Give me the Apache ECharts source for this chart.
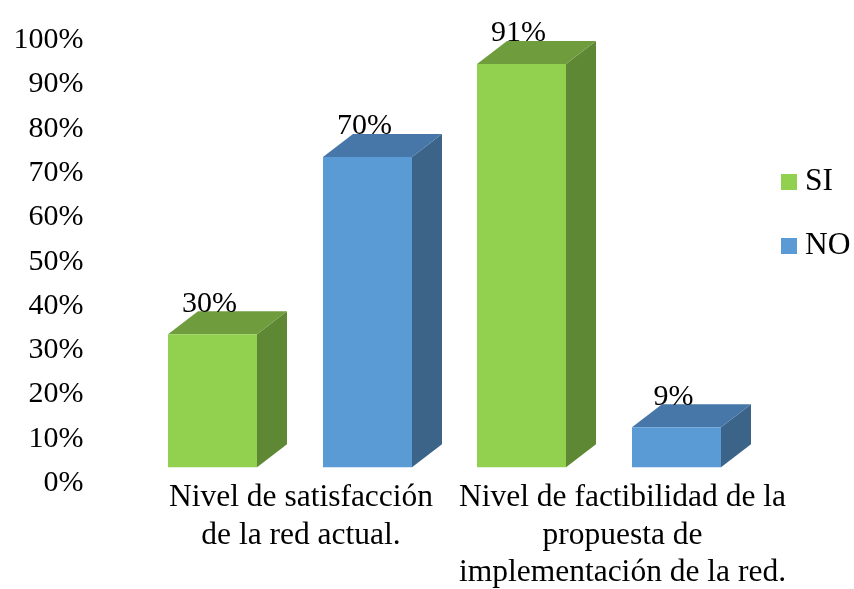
<!DOCTYPE html>
<html>
<head>
<meta charset="utf-8">
<script src="https://cdn.jsdelivr.net/npm/echarts@6/dist/echarts.min.js"></script>
<style>html,body{margin:0;padding:0;background:#fff}#c{width:854px;height:589px}</style>
</head>
<body>
<div id="c"></div>
<script>
const categories = ['Nivel de satisfacción\nde la red actual.', 'Nivel de factibilidad de la\npropuesta de\nimplementación de la red.'];
const seriesNames = ['SI', 'NO'];
const siValues = [30, 91];
const noValues = [70, 9];
const yMin = 0, yMax = 100, yInterval = 10;

const FONT = '"Liberation Serif", "Times New Roman", serif';
const FS = 30;
const FS_CAT = 31.5;
const palette = {
  SI: { front: '#92D050', top: '#6F9D3E', side: '#5E8833' },
  NO: { front: '#5B9BD5', top: '#4677A8', side: '#3B6488' }
};

const chart = echarts.init(document.getElementById('c'));

function renderBar(params, api) {
  const name = seriesNames[params.seriesIndex];
  const col = palette[name];
  const cat = api.value(0), v = api.value(1);
  const band = api.size([1, 0])[0];
  const p = api.coord([cat, v]);
  const p0 = api.coord([cat, 0]);
  const sign = params.seriesIndex === 0 ? -1 : 1;
  const cx = p[0] + sign * 0.2508 * band;
  const w = 0.288 * band;
  const lift = 16, dx = 30, dy = -23;
  const x0 = cx - w / 2, x1 = cx + w / 2;
  const yT = p[1] - lift, yB = p0[1] - lift;
  return {
    type: 'group',
    children: [
      { type: 'polygon', shape: { points: [[x1, yT], [x1 + dx, yT + dy], [x1 + dx, yB + dy], [x1, yB]] }, style: { fill: col.side } },
      { type: 'polygon', shape: { points: [[x0, yT], [x1, yT], [x1 + dx, yT + dy], [x0 + dx, yT + dy]] }, style: { fill: col.top } },
      { type: 'rect', shape: { x: x0, y: yT, width: w, height: yB - yT }, style: { fill: col.front } },
      { type: 'text', style: { text: v + '%', x: cx - 3, y: yT - 30.5, align: 'center', verticalAlign: 'middle', fontSize: FS, fontFamily: FONT, fill: '#000' } }
    ]
  };
}

chart.setOption({
  animation: false,
  backgroundColor: '#fff',
  grid: { left: 135.5, right: 100.5, top: 40, bottom: 105.5 },
  legend: {
    orient: 'vertical', left: 776, top: 161, itemWidth: 16, itemHeight: 16, itemGap: 32,
    icon: 'rect', data: seriesNames,
    textStyle: { fontSize: FS_CAT, fontFamily: FONT, color: '#000', padding: [0, 0, 0, 3] }
  },
  xAxis: {
    type: 'category', data: categories,
    axisLine: { show: false }, axisTick: { show: false }, splitLine: { show: false },
    axisLabel: {
      interval: 0, margin: -4,
      formatter: (val, idx) => val.split('\n').map(l => '{c' + idx + '|' + l + '}').join('\n'),
      rich: {
        c0: { fontSize: FS_CAT, fontFamily: FONT, color: '#000', lineHeight: 37.5, padding: [0, 0, 0, 22] },
        c1: { fontSize: FS_CAT, fontFamily: FONT, color: '#000', lineHeight: 37.5, padding: [0, 0, 0, 47] }
      }
    }
  },
  yAxis: {
    type: 'value', min: yMin, max: yMax, interval: yInterval,
    axisLine: { show: false }, axisTick: { show: false }, splitLine: { show: false },
    axisLabel: { formatter: '{value}%', fontSize: FS, fontFamily: FONT, color: '#000', margin: 52 }
  },
  series: [
    { name: 'SI', type: 'custom', renderItem: renderBar, itemStyle: { color: palette.SI.front },
      encode: { x: 0, y: 1 }, data: siValues.map((v, i) => [i, v]) },
    { name: 'NO', type: 'custom', renderItem: renderBar, itemStyle: { color: palette.NO.front },
      encode: { x: 0, y: 1 }, data: noValues.map((v, i) => [i, v]) }
  ]
});
</script>
</body>
</html>
